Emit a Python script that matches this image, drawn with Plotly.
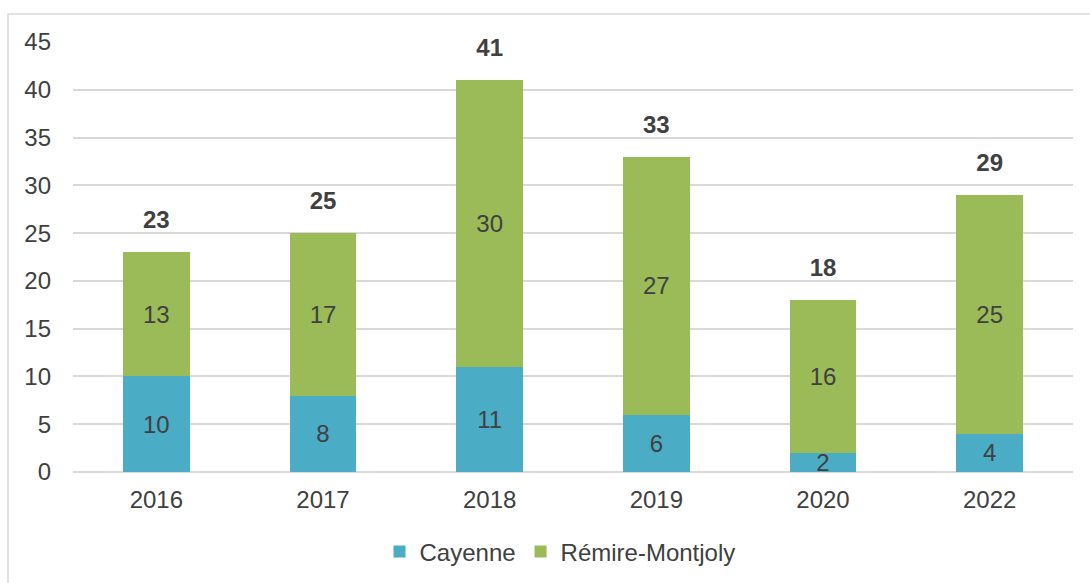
import plotly.graph_objects as go

years = ["2016", "2017", "2018", "2019", "2020", "2022"]
cayenne = [10, 8, 11, 6, 2, 4]
remire = [13, 17, 30, 27, 16, 25]
totals = [a + b for a, b in zip(cayenne, remire)]

FONT = "Liberation Sans, Arial, sans-serif"
TXT = "#404040"
FS = 24

fig = go.Figure()
fig.add_trace(go.Bar(x=years, y=cayenne, name="Cayenne", marker_color="#4BACC6",
                     marker_line_width=0,
                     text=cayenne, textposition="inside", insidetextanchor="middle",
                     textangle=0, constraintext="none",
                     textfont=dict(size=FS, color=TXT, family=FONT)))
fig.add_trace(go.Bar(x=years, y=remire, name="Rémire-Montjoly", marker_color="#9BBB59",
                     marker_line_width=0,
                     text=remire, textposition="inside", insidetextanchor="middle",
                     textangle=0, constraintext="none",
                     textfont=dict(size=FS, color=TXT, family=FONT)))
fig.add_trace(go.Scatter(x=years, y=totals, mode="markers+text", text=[f"<b>{t}</b>" for t in totals],
                         textposition="top center", showlegend=False, hoverinfo="skip",
                         cliponaxis=False,
                         marker=dict(size=27, color="rgba(0,0,0,0)"),
                         textfont=dict(size=FS, color=TXT, family=FONT)))

fig.add_shape(type="rect", xref="paper", yref="paper", x0=-0.065, x1=1.03, y0=-0.28, y1=1.065,
              line=dict(color="#d9d9d9", width=1.5), fillcolor="rgba(0,0,0,0)", layer="below")

fig.update_layout(
    barmode="stack", bargap=0.6,
    width=1090, height=583,
    margin=dict(l=73, r=17, t=42, b=111, autoexpand=False),
    plot_bgcolor="white", paper_bgcolor="white",
    font=dict(family=FONT, size=FS, color=TXT),
    showlegend=True,
    legend=dict(orientation="h", x=0.487, xanchor="center", y=-0.186, yanchor="middle",
                font=dict(size=FS, color=TXT), itemwidth=30, traceorder="normal"),
)
fig.update_yaxes(range=[0, 45], dtick=5, showgrid=True, gridcolor="#d9d9d9", gridwidth=1.5,
                 zeroline=True, zerolinecolor="#d9d9d9", zerolinewidth=1.5,
                 ticklabelstandoff=21, tickfont=dict(size=FS, color=TXT), showline=False,
                 automargin=False)
fig.update_xaxes(type="category", showgrid=False, showline=False, ticks="",
                 ticklabelstandoff=11,
                 tickfont=dict(size=FS, color=TXT), automargin=False)

fig.write_html("out.html", config={"displayModeBar": False},
               post_script="document.body.style.margin='0';")
